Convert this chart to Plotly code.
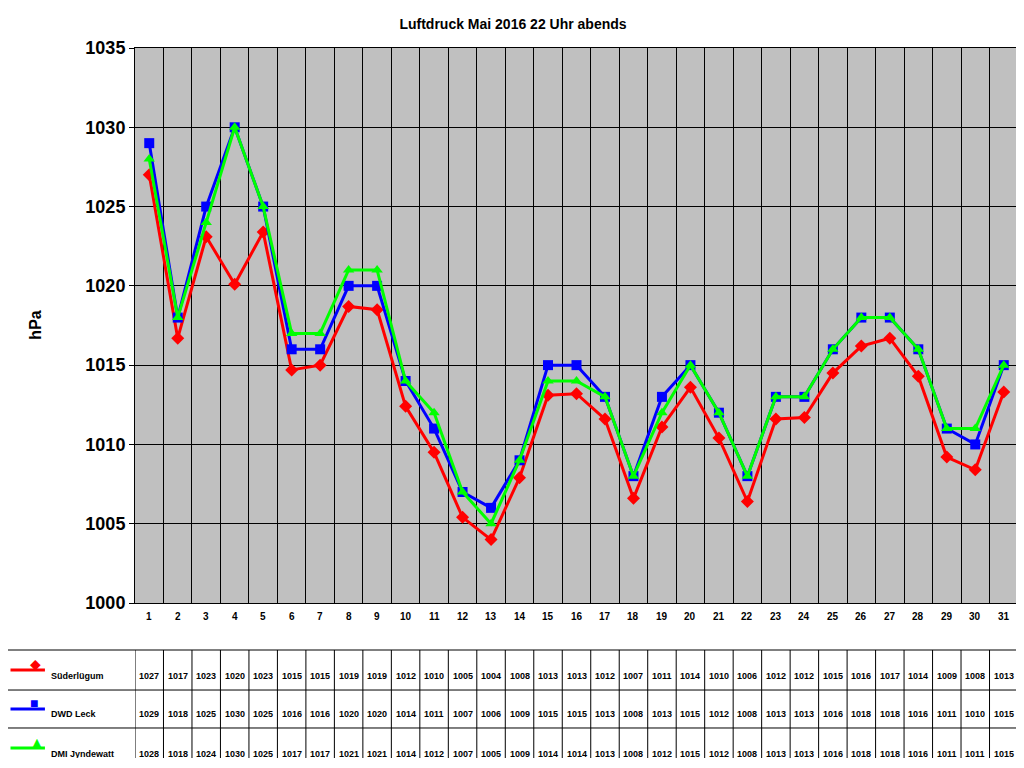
import plotly.graph_objects as go

days = list(range(1, 32))
sued = [1027.0, 1016.7, 1023.1, 1020.1, 1023.4, 1014.7, 1015.0, 1018.7, 1018.5, 1012.4,
        1009.5, 1005.4, 1004.0, 1007.9, 1013.1, 1013.2, 1011.6, 1006.6, 1011.1, 1013.6,
        1010.4, 1006.4, 1011.6, 1011.7, 1014.5, 1016.2, 1016.7, 1014.3, 1009.2, 1008.4, 1013.3]
dwd = [1029, 1018, 1025, 1030, 1025, 1016, 1016, 1020, 1020, 1014, 1011, 1007, 1006, 1009, 1015,
       1015, 1013, 1008, 1013, 1015, 1012, 1008, 1013, 1013, 1016, 1018, 1018, 1016, 1011, 1010, 1015]
dmi = [1028, 1018, 1024, 1030, 1025, 1017, 1017, 1021, 1021, 1014, 1012, 1007, 1005, 1009, 1014,
       1014, 1013, 1008, 1012, 1015, 1012, 1008, 1013, 1013, 1016, 1018, 1018, 1016, 1011, 1011, 1015]
names = ["Süderlügum", "DWD Leck", "DMI Jyndewatt"]
colors = ["#ff0000", "#0000ff", "#00ff00"]
symbols = ["diamond", "square", "triangle-up"]
glyphs = ["◆", "■", "▲"]
series = [sued, dwd, dmi]

fig = go.Figure()
for vals, nm, col, sym in zip(series, names, colors, symbols):
    fig.add_trace(go.Scatter(x=days, y=vals, name=nm, mode="lines+markers",
                             line=dict(color=col, width=3),
                             marker=dict(symbol=sym, size=10, color=col)))

# table geometry (paper coords)
row_edges = [0, -0.0847, -0.1568, -0.2252, -0.2973]
left = -0.1506
shapes = []
for y in row_edges[1:]:
    shapes.append(dict(type="line", xref="paper", yref="paper", x0=left, x1=1, y0=y, y1=y,
                       line=dict(color="black", width=1)))
for xv in [0.5 + k for k in range(32)]:
    shapes.append(dict(type="line", xref="x", yref="paper", x0=xv, x1=xv,
                       y0=row_edges[1], y1=row_edges[-1], line=dict(color="black", width=1)))
shapes.append(dict(type="line", xref="paper", yref="paper", x0=left, x1=left,
                   y0=row_edges[1], y1=row_edges[-1], line=dict(color="black", width=1)))

ann = []
for d in days:
    ann.append(dict(x=d, y=(row_edges[0] + row_edges[1]) / 2 + 0.005, xref="x", yref="paper",
                    text=f"<b>{d}</b>", showarrow=False, font=dict(size=10)))
for i, (vals, nm, col, g) in enumerate(zip(series, names, colors, glyphs)):
    yc = (row_edges[i + 1] + row_edges[i + 2]) / 2
    yt = row_edges[i + 2] + 0.012
    for d, v in zip(days, vals):
        ann.append(dict(x=d, y=yt, xref="x", yref="paper", yanchor="bottom",
                        text=f"<b>{int(v + 0.5)}</b>", showarrow=False, font=dict(size=9)))
    shapes.append(dict(type="line", xref="paper", yref="paper", x0=-0.141, x1=-0.102,
                       y0=yc, y1=yc, line=dict(color=col, width=3)))
    ann.append(dict(x=-0.1215, y=yc - 0.008, xref="paper", yref="paper", text=g, showarrow=False,
                    font=dict(size=14, color=col)))
    ann.append(dict(x=-0.097, y=yt, xref="paper", yref="paper", xanchor="left", yanchor="bottom",
                    text=f"<b>{nm}</b>", showarrow=False, font=dict(size=9)))
ann.append(dict(x=-0.125, y=0.5, xref="paper", yref="paper", text="<b>hPa</b>", textangle=-90,
                showarrow=False, font=dict(size=16)))

fig.update_layout(
    width=1010, height=750,
    margin=dict(l=127, r=0, t=40, b=155),
    paper_bgcolor="white", plot_bgcolor="#c0c0c0",
    font=dict(family="Arial, Liberation Sans", color="black"),
    title=dict(text="<b>Luftdruck Mai 2016 22 Uhr abends</b>", x=0.5, y=0.985, font=dict(size=14)),
    showlegend=False, shapes=shapes, annotations=ann,
)
fig.update_xaxes(range=[0.5, 31.5], tickvals=[k + 0.5 for k in range(31)], showticklabels=False,
                 showgrid=True, gridcolor="black", gridwidth=1, zeroline=False,
                 showline=True, linecolor="black", mirror=True)
fig.update_yaxes(range=[1000, 1035], dtick=5, showgrid=True, gridcolor="black", gridwidth=1,
                 tickfont=dict(size=18, weight="bold"), tickformat="d",
                 ticks="outside", ticklen=5, tickcolor="black",
                 showline=True, linecolor="black", mirror=True, zeroline=False)
fig.write_html("out.html")
